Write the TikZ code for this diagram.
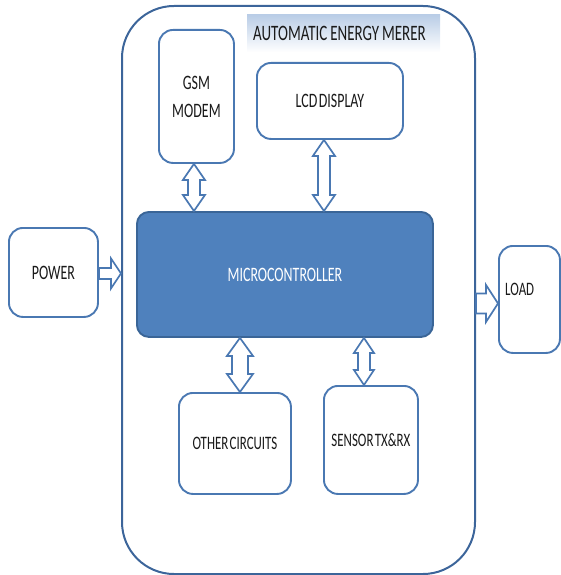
\documentclass[tikz,border=0pt]{standalone}
\usepackage{fontspec}
\setmainfont{Carlito}[FakeStretch=0.68, WordSpace=0.45]
\usetikzlibrary{calc}
\definecolor{boxline}{HTML}{4A78B2}
\definecolor{outerline}{HTML}{3C659A}
\definecolor{mcufill}{HTML}{4F81BD}
\definecolor{mculine}{HTML}{3A6597}
\definecolor{txt}{HTML}{1A1A1A}
\definecolor{titletop}{HTML}{B8CCE6}
\tikzset{
  box/.style={draw=boxline, line width=1.9pt, rounded corners=14pt, fill=white,
    text=txt, align=center, anchor=north west, inner sep=0pt},
  arrowline/.style={draw=boxline, line width=1.7pt, fill=white, line join=miter},
  lbl/.style={font=\fontsize{20.5}{25}\selectfont},
  slbl/.style={font=\fontsize{19}{23}\selectfont},
}
\newcommand\vdarrow[7]{%
  \draw[arrowline] let \p0=(#1), \p1=(#3), \p2=(#4) in
    (\x0+#2,\y1) -- (\x0+#2+#6,\y1-#7) -- (\x0+#2+#5,\y1-#7) -- (\x0+#2+#5,\y2+#7)
    -- (\x0+#2+#6,\y2+#7) -- (\x0+#2,\y2) -- (\x0+#2-#6,\y2+#7) -- (\x0+#2-#5,\y2+#7)
    -- (\x0+#2-#5,\y1-#7) -- (\x0+#2-#6,\y1-#7) -- cycle;}
\newcommand\hsarrow[7]{%
  \draw[arrowline] let \p1=(#1), \p2=(#2), \p0=(#3) in
    (\x1,\y0+#4+#5) -- (\x2-#7,\y0+#4+#5) -- (\x2-#7,\y0+#4+#6) -- (\x2,\y0+#4)
    -- (\x2-#7,\y0+#4-#6) -- (\x2-#7,\y0+#4-#5) -- (\x1,\y0+#4-#5) -- cycle;}
\begin{document}
\begin{tikzpicture}[x=1pt,y=-1pt]
\useasboundingbox (0,0) rectangle (560,575);
% outer frame
\node[draw=outerline, line width=2pt, rounded corners=52pt, anchor=north west,
  minimum width=353pt, minimum height=568pt, inner sep=0pt] (outer) at (121,5) {};
% title
\node[anchor=north west, top color=titletop, bottom color=white, minimum height=38pt,
  text width=181pt, inner xsep=6pt, inner ysep=0pt, align=left, text=txt,
  font=\fontsize{22}{26}\selectfont] (title) at (247,14)
  {\mbox{AUTOMATIC\hspace{3pt}ENERGY\hspace{3pt}MERER}};
% boxes
\node[box, lbl, minimum width=75pt, minimum height=133pt] (gsm) at (158,29) {GSM\\[3pt]MODEM};
\node[box, lbl, minimum width=146pt, minimum height=76pt] (lcd) at (256,62) {LCD DISPLAY};
\node[box, lbl, draw=mculine, fill=mcufill, text=white, rounded corners=12pt,
  minimum width=296pt, minimum height=125pt] (mcu) at (136,211) {MICROCONTROLLER};
\node[box, lbl, minimum width=89pt, minimum height=89pt] (power) at (8,227) {POWER};
\node[box, minimum width=61pt, minimum height=107pt] (load) at (498,245) {};
\node[anchor=west, inner sep=0pt, text=txt, slbl] (loadtxt) at (505,289) {LOAD};
\node[box, slbl, minimum width=112pt, minimum height=101pt] (other) at (178,392) {OTHER CIRCUITS};
\node[box, slbl, minimum width=94pt, minimum height=108pt] (sensor) at (323,385) {SENSOR TX\&RX};
% connectors
\vdarrow{gsm.south}{-2.5pt}{gsm.south}{mcu.north}{6pt}{11pt}{16pt}
\vdarrow{lcd.south}{-6pt}{lcd.south}{mcu.north}{6pt}{11pt}{16pt}
\vdarrow{other.north}{5pt}{mcu.south}{other.north}{8pt}{13pt}{18pt}
\vdarrow{sensor.north}{-7pt}{mcu.south}{sensor.north}{6pt}{10pt}{15pt}
\hsarrow{power.east}{outer.west}{power.center}{-1pt}{5.5pt}{15pt}{10pt}
\hsarrow{outer.east}{load.west}{load.center}{-4pt}{10pt}{18.5pt}{12pt}
\end{tikzpicture}
\end{document}
